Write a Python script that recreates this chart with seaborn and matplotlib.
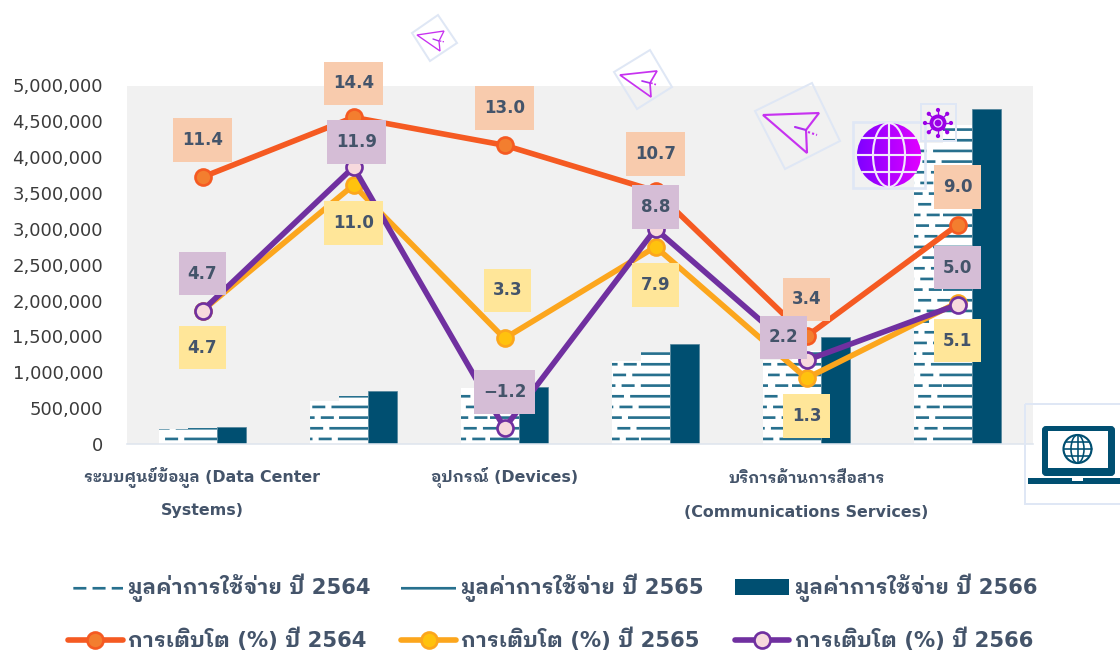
import warnings
import numpy as np
import pandas as pd
import matplotlib
matplotlib.use("Agg")
import matplotlib.pyplot as plt
import matplotlib.hatch as mhatch
from matplotlib.lines import Line2D
from matplotlib.path import Path
from matplotlib.patches import Patch, Polygon, Rectangle, Circle, Ellipse, FancyBboxPatch
from matplotlib.colors import LinearSegmentedColormap
from matplotlib.ticker import StrMethodFormatter
from matplotlib.transforms import Affine2D
import seaborn as sns

warnings.filterwarnings("ignore")

# data
categories = ["Data Center Systems", "Software", "Devices", "IT Services", "Communications Services", "Overall"]
tick_labels = ["ระบบศูนย์ข้อมูล (Data Center\nSystems)", "", "อุปกรณ์ (Devices)", "",
               "บริการด้านการสื่อสาร\n(Communications Services)", ""]
spend_2564 = [209000, 600000, 780000, 1160000, 1170000, 4200000]
spend_2565 = [225000, 670000, 790000, 1280000, 1300000, 4450000]
spend_2566 = [237000, 740000, 800000, 1390000, 1490000, 4670000]
growth_2564 = [11.4, 14.4, 13.0, 10.7, 3.4, 9.0]
growth_2565 = [4.7, 11.0, 3.3, 7.9, 1.3, 5.1]
growth_2566 = [4.7, 11.9, -1.2, 8.8, 2.2, 5.0]

bar_names = ["มูลค่าการใช้จ่าย ปี 2564", "มูลค่าการใช้จ่าย ปี 2565", "มูลค่าการใช้จ่าย ปี 2566"]
line_names = ["การเติบโต (%) ปี 2564", "การเติบโต (%) ปี 2565", "การเติบโต (%) ปี 2566"]

W, H = 1120, 652
DPI = 96
NAVY = "#004f71"
HATCH_COL = "#27708e"
TEXT = "#44546a"
FRAME = "#dfe7f5"
line_cols = ["#f55a22", "#fca61d", "#7030a0"]
marker_cols = ["#f37e2f", "#ffc20e", "#f7d9dd"]
box_cols = ["#f8cbad", "#ffe699", "#d5bdd6"]

# label box offsets in pixels from each point
offsets_2564 = [(0, 37), (0, 34), (0, 37), (0, 37), (0, 37), (0, 38)]
offsets_2565 = [(0, -37), (0, -38), (3, 48), (0, -38), (0, -38), (0, -38)]
offsets_2566 = [(0, 37), (3, 25), (0, 36), (0, 22), (-23, 23), (0, 37)]


# hatches that look like the pattern fills of the original
class RowHatch(mhatch.HatchPatternBase):
    rows = 9
    per_row = 5

    def __init__(self, hatch, density):
        self.segs = []
        if "h" in hatch:
            for i in range(self.rows):
                y = (i + 0.85) / self.rows
                self.segs.append((0.0, 1.0, y))
        if "d" in hatch:
            period = 1.0 / self.per_row
            for i in range(self.rows):
                y = (i + 0.85) / self.rows
                start = (i * 5 / 9 * period) % period
                for k in range(self.per_row):
                    a = start + k * period
                    b = a + 0.108
                    if b > 1.0:
                        self.segs.append((a, 1.0, y))
                        self.segs.append((0.0, b - 1.0, y))
                    else:
                        self.segs.append((a, b, y))
        self.num_vertices = 2 * len(self.segs)

    def set_vertices_and_codes(self, vertices, codes):
        for n, (a, b, y) in enumerate(self.segs):
            vertices[2 * n] = (a, y)
            vertices[2 * n + 1] = (b, y)
            codes[2 * n] = Path.MOVETO
            codes[2 * n + 1] = Path.LINETO


mhatch._hatch_types.append(RowHatch)

sns.set_theme(style="white")
plt.rcParams["font.family"] = ["DejaVu Sans", "IBM Plex Sans Thai Looped"]
plt.rcParams["hatch.linewidth"] = 2.0

bars = pd.DataFrame({
    "cat": categories * 3,
    "value": spend_2564 + spend_2565 + spend_2566,
    "series": np.repeat(bar_names, 6),
})
lines = pd.DataFrame({
    "cat": categories * 3,
    "growth": growth_2564 + growth_2565 + growth_2566,
    "series": np.repeat(line_names, 6),
})

fig = plt.figure(figsize=(W / DPI, H / DPI), dpi=DPI, facecolor="white")
rect = [127 / W, 1 - 444 / H, 906 / W, 358.5 / H]
ax = fig.add_axes(rect)
sns.barplot(data=bars, x="cat", y="value", hue="series", gap=0, width=0.576, saturation=1,
            palette=["white", "white", NAVY], legend=False, ax=ax)

for c, h in zip(ax.containers, ["d", "h", None]):
    for p in c:
        if h:
            p.set_facecolor("white")
            p.set_edgecolor(HATCH_COL)
            p.set_hatch(h)
            p.set_linewidth(0)
        else:
            p.set_edgecolor("#4f8199")
            p.set_linewidth(0.5)

ax.set_facecolor("#f1f1f1")
ax.set_xlim(-0.5, 5.5)
ax.set_ylim(0, 5000000)
ax.set_yticks(np.arange(0, 5000001, 500000))
ax.yaxis.set_major_formatter(StrMethodFormatter("{x:,.0f}"))
ax.tick_params(axis="y", length=0, pad=18, labelsize=13.5, labelcolor="#3b3b3b")
ax.set_xticks(range(6))
ax.set_xticklabels(tick_labels, fontsize=11.9, fontweight="bold", color=TEXT, linespacing=2.28)
ax.tick_params(axis="x", length=0, pad=17)
ax.set_xlabel("")
ax.set_ylabel("")
# the thai only first line comes out shorter, push this label down to line up
lab5 = ax.get_xticklabels()[4]
lab5.set_linespacing(2.6)
lab5.set_transform(lab5.get_transform() + Affine2D().translate(0, -4))
sns.despine(ax=ax, left=True, top=True, right=True)
ax.spines["bottom"].set_color("#dfe5ee")
ax.spines["bottom"].set_linewidth(1.2)

ax2 = fig.add_axes(rect, sharex=ax)
ax2.patch.set_alpha(0)
sns.lineplot(data=lines, x="cat", y="growth", hue="series", palette=line_cols,
             marker="o", linewidth=4.2, sort=False, legend=False, ax=ax2)
ax2.set_ylim(-2, 16)
ax2.set_xlim(-0.5, 5.5)
ax2.axis("off")

for ln, lc, mc in zip(ax2.lines, line_cols, marker_cols):
    ln.set_markersize(12)
    ln.set_markerfacecolor(mc)
    ln.set_markeredgecolor(lc)
    ln.set_markeredgewidth(2)
    ln.set_solid_capstyle("round")

all_growth = [growth_2564, growth_2565, growth_2566]
all_offsets = [offsets_2564, offsets_2565, offsets_2566]
for vals, offs, col in zip(all_growth, all_offsets, box_cols):
    for i, (v, o) in enumerate(zip(vals, offs)):
        ax2.annotate(f"{v:.1f}".replace("-", "\u2212"), xy=(i, v), xytext=o, textcoords="offset pixels",
                     ha="center", va="center", fontsize=12.5, fontweight="bold", color=TEXT, zorder=10,
                     bbox=dict(boxstyle="square,pad=0.55", mutation_aspect=1.4, fc=col, ec="none"))

handles = []
labels = []
for i, h in enumerate(["d", "h", None]):
    if h:
        handles.append(Patch(facecolor="white", edgecolor=HATCH_COL, hatch=h, linewidth=0))
    else:
        handles.append(Patch(facecolor=NAVY, edgecolor=NAVY, linewidth=0))
    labels.append(bar_names[i])
    handles.append(Line2D([0], [0], color=line_cols[i], lw=4.2, marker="o", markersize=12,
                          markerfacecolor=marker_cols[i], markeredgecolor=line_cols[i], markeredgewidth=2))
    labels.append(line_names[i])
leg = fig.legend(handles, labels, ncols=3, loc="upper left", bbox_to_anchor=(68 / W, 1 - 574 / H),
                 frameon=False, prop={"size": 15.8, "weight": "bold"}, handlelength=2.6, handleheight=0.8,
                 handletextpad=0.25, columnspacing=1.46, labelspacing=1.2, borderpad=0, borderaxespad=0)
for t in leg.get_texts():
    t.set_color(TEXT)

# decorative icons, drawn in pixel coordinates on a cover axes
deco = fig.add_axes([0, 0, 1, 1], zorder=20)
deco.set_xlim(0, W)
deco.set_ylim(H, 0)
deco.axis("off")
deco.patch.set_alpha(0)


def plane(frame, pts, stub, dots, lw):
    deco.add_patch(Polygon(frame, closed=True, fill=False, ec=FRAME, lw=1.5))
    deco.add_patch(Polygon(pts, closed=True, fill=False, ec="#c732f0", lw=lw, joinstyle="miter"))
    deco.plot(*zip(*stub), color="#b02ef0", lw=lw)
    deco.plot(*zip(*dots), color="#c732f0", lw=lw, ls=(0, (1, 1)))


plane([(438, 15), (457, 43), (430, 61), (412, 33)],
      [(417, 35), (444, 31), (439, 41), (440, 51)], [(433, 39), (439, 41)], [(440, 41), (445, 42)], 1.0)
plane([(650, 50), (672, 87), (637, 109), (614, 72)],
      [(620, 75), (657, 71), (650, 83), (651, 97)], [(642, 81), (650, 83)], [(651, 83), (657, 85)], 1.3)
plane([(755, 111), (812, 83), (840, 141), (785, 169)],
      [(763, 115), (819, 113), (806, 130), (807, 153)], [(795, 127), (806, 130)], [(808, 132), (817, 135)], 1.6)

# globe
grad = LinearSegmentedColormap.from_list("g", ["#7f00ff", "#e100ff"])
im = deco.imshow(np.linspace(0, 1, 64).reshape(1, -1), cmap=grad, extent=(857, 921, 187, 123), aspect="auto", zorder=2)
im.set_clip_path(Circle((889, 155), 32, transform=deco.transData))
deco.set_xlim(0, W)
deco.set_ylim(H, 0)
deco.add_patch(Rectangle((853, 122), 72, 66, fill=False, ec=FRAME, lw=2, zorder=1))
deco.add_patch(Ellipse((889, 155), 32, 64, fill=False, ec="#f1e8fb", lw=1.6, zorder=3))
deco.plot([889, 889], [123, 187], color="#f1e8fb", lw=1.6, zorder=3)
deco.plot([857, 921], [155, 155], color="#f1e8fb", lw=1.6, zorder=3)
deco.plot([862, 916], [138, 138], color="#f1e8fb", lw=1.6, zorder=3)
deco.plot([862, 916], [172, 172], color="#f1e8fb", lw=1.6, zorder=3)

# virus
deco.add_patch(Rectangle((921, 104), 35, 37, fill=False, ec=FRAME, lw=1.5))
deco.add_patch(Circle((938, 123), 8.5, fc="#9a00e6", ec="none", zorder=3))
deco.add_patch(Circle((938, 123), 4, fc="none", ec="#e9c6ff", lw=1, zorder=4))
for a in np.arange(0, 360, 45):
    dx, dy = np.cos(np.radians(a)), np.sin(np.radians(a))
    deco.plot([938 + 8 * dx, 938 + 13 * dx], [123 + 8 * dy, 123 + 13 * dy], color="#9a00e6", lw=1, zorder=3)
    deco.add_patch(Circle((938 + 13 * dx, 123 + 13 * dy), 2.1, fc="#9a00e6", ec="none", zorder=3))

# laptop
deco.add_patch(Rectangle((1025, 404), 110, 100, fill=False, ec=FRAME, lw=1.5))
deco.add_patch(FancyBboxPatch((1044, 428), 69, 46, boxstyle="round,pad=0,rounding_size=2", fc=NAVY, ec=NAVY, lw=3))
deco.add_patch(Rectangle((1048, 431), 60, 37, fc="white", ec="none"))
deco.add_patch(Rectangle((1028, 478), 92, 6, fc=NAVY, ec="none"))
deco.add_patch(Rectangle((1072, 478), 11, 3, fc="white", ec="none", zorder=3))
deco.add_patch(Circle((1077.5, 449), 14, fc="none", ec=NAVY, lw=1.6))
deco.add_patch(Ellipse((1077.5, 449), 13, 28, fc="none", ec=NAVY, lw=1.2))
deco.plot([1063.5, 1091.5], [449, 449], color=NAVY, lw=1.2)
deco.plot([1077.5, 1077.5], [435, 463], color=NAVY, lw=1.2)
deco.plot([1066, 1089], [442, 442], color=NAVY, lw=1.2)
deco.plot([1066, 1089], [456, 456], color=NAVY, lw=1.2)

fig.savefig("out.png", dpi=DPI)
